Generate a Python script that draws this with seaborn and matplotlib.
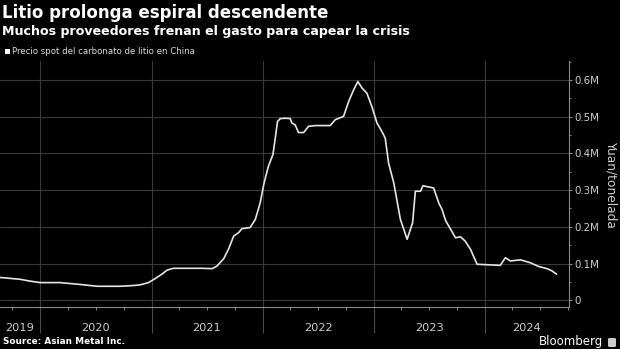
import matplotlib
matplotlib.use("Agg")
import matplotlib.pyplot as plt
import matplotlib.dates as mdates
from matplotlib.patches import Rectangle, FancyBboxPatch
from matplotlib.ticker import FixedLocator, FuncFormatter
import seaborn as sns
import pandas as pd

# ---- data ----
dates = [
    "2019-08-22", "2019-10-27", "2019-11-29", "2020-01-01", "2020-03-06",
    "2020-05-11", "2020-07-06", "2020-09-20", "2020-11-02", "2020-11-25",
    "2020-12-22", "2021-01-13", "2021-02-04", "2021-02-21", "2021-03-14",
    "2021-06-16", "2021-07-19", "2021-08-04", "2021-08-26", "2021-09-11",
    "2021-09-28", "2021-10-14", "2021-10-25", "2021-11-21", "2021-12-08",
    "2021-12-24", "2022-01-06", "2022-01-20", "2022-02-04", "2022-02-11",
    "2022-02-19", "2022-02-28", "2022-03-17", "2022-04-02", "2022-04-07",
    "2022-04-18", "2022-04-29", "2022-05-16", "2022-06-01", "2022-06-23",
    "2022-08-11", "2022-08-28", "2022-09-24", "2022-10-11", "2022-10-27",
    "2022-11-10", "2022-11-24", "2022-12-10", "2022-12-26", "2023-01-12",
    "2023-01-28", "2023-02-08", "2023-02-19", "2023-03-08", "2023-03-30",
    "2023-04-21", "2023-05-09", "2023-05-18", "2023-06-04", "2023-06-12",
    "2023-07-17", "2023-08-03", "2023-08-14", "2023-08-25", "2023-09-05",
    "2023-09-27", "2023-10-13", "2023-10-29", "2023-11-15", "2023-12-07",
    "2024-02-21", "2024-03-09", "2024-03-25", "2024-04-28", "2024-05-30",
    "2024-06-26", "2024-07-24", "2024-08-09", "2024-08-24",
]
prices = [
    62000, 57000, 52000, 48000, 48000,
    43000, 38000, 38000, 40000, 42000,
    48000, 59000, 71000, 82000, 87000,
    87000, 86000, 93000, 113000, 139000,
    175000, 184000, 195000, 198000, 220000,
    265000, 320000, 365000, 397000, 438000,
    487000, 495000, 496000, 495000, 483000,
    478000, 457000, 457000, 474000, 476000,
    476000, 492000, 501000, 542000, 573000,
    596000, 578000, 564000, 528000, 483000,
    460000, 442000, 374000, 320000, 220000,
    166000, 211000, 297000, 297000, 312000,
    306000, 265000, 247000, 218000, 202000,
    170000, 173000, 161000, 139000, 98000,
    95000, 116000, 107000, 110000, 102000,
    92000, 86000, 80000, 71000,
]
series_name = "Precio spot del carbonato de litio en China"
y_ticks = [0, 100000, 200000, 300000, 400000, 500000, 600000]
y_tick_labels = ["0", "0.1M", "0.2M", "0.3M", "0.4M", "0.5M", "0.6M"]
years = [2019, 2020, 2021, 2022, 2023, 2024]

title = "Litio prolonga espiral descendente"
subtitle = "Muchos proveedores frenan el gasto para capear la crisis"
y_label = "Yuan/tonelada"
source = "Source: Asian Metal Inc."

df = pd.DataFrame({"date": pd.to_datetime(dates), "price": prices})

# ---- style ----
sns.set_theme(style="dark", rc={
    "axes.facecolor": "black",
    "figure.facecolor": "black",
    "savefig.facecolor": "black",
})
fam = ["DejaVu Sans"]
plt.rcParams["font.family"] = fam

W, H = 620, 349
fig = plt.figure(figsize=(6.2, 3.49), dpi=100)
ax = fig.add_axes([0, 42 / H, 569 / W, 246 / H])
ax.set_facecolor("black")

sns.lineplot(data=df, x="date", y="price", ax=ax, color="#e6e6e6",
             linewidth=1.2, legend=False)

xmin = pd.Timestamp("2019-08-22")
xmax = pd.Timestamp("2024-10-04")
ax.set_xlim(xmin, xmax)
ax.set_ylim(-18500, 652000)

# spines
for s in ["top", "left"]:
    ax.spines[s].set_visible(False)
for s in ["right", "bottom"]:
    ax.spines[s].set_visible(True)
    ax.spines[s].set_color("#8a8a8a")
    ax.spines[s].set_linewidth(0.8)

# y axis on the right
ax.yaxis.tick_right()
ax.yaxis.set_major_locator(FixedLocator(y_ticks))
ax.set_yticklabels(y_tick_labels)
ax.yaxis.set_minor_locator(FixedLocator([t + 50000 for t in y_ticks]))
ax.tick_params(axis="y", which="major", right=True, left=False, length=2.5,
               width=0.8, color="#8a8a8a", labelcolor="#cfcfcf",
               labelsize=7.4, pad=1.5)
ax.tick_params(axis="y", which="minor", right=True, left=False, length=1.5,
               width=0.7, color="#8a8a8a")
ax.set_ylabel("")
ax.set_xlabel("")

# x axis: long separators at year boundaries, short quarterly ticks
ax.xaxis.set_major_locator(mdates.YearLocator())
ax.xaxis.set_minor_locator(mdates.MonthLocator(bymonth=[4, 7, 10]))
ax.xaxis.set_major_formatter(FuncFormatter(lambda v, p: ""))
ax.tick_params(axis="x", which="major", bottom=True, length=19, width=0.8,
               color="#4a4a4a", pad=0)
ax.tick_params(axis="x", which="minor", bottom=True, length=2, width=0.7,
               color="#8a8a8a")

ax.grid(True, which="major", axis="both", color="#3a3a3a", linewidth=0.8)
ax.grid(False, which="minor")

# year labels centered on visible part of each year
for yr in years:
    a = max(pd.Timestamp(f"{yr}-01-01"), xmin)
    b = min(pd.Timestamp(f"{yr + 1}-01-01"), xmax)
    mid = a + (b - a) / 2
    ax.text(mdates.date2num(mid), -0.085, str(yr), transform=ax.get_xaxis_transform(),
            ha="center", va="center", color="#cfcfcf", fontsize=8.2)

# titles
fig.text(2 / W, 1 - 13 / H, title, color="white", fontsize=12.0,
         fontweight="bold", ha="left", va="center")
fig.text(2 / W, 1 - 32 / H, subtitle, color="white", fontsize=9.1,
         fontweight="bold", ha="left", va="center")

# legend
fig.patches.append(Rectangle((5 / W, 1 - 54 / H), 5 / W, 5 / H,
                             transform=fig.transFigure, facecolor="white",
                             edgecolor="none"))
fig.text(12 / W, 1 - 52 / H, series_name, color="#dddddd", fontsize=6.2,
         ha="left", va="center")

# y label
fig.text(611 / W, 1 - 184 / H, y_label, color="#cfcfcf", fontsize=8.8,
         rotation=270, ha="center", va="center")

# footer
fig.text(3 / W, 1 - 342 / H, source, color="white", fontsize=6.4,
         fontweight="bold", ha="left", va="center")
fig.text(603 / W, 1 - 342 / H, "Bloomberg", color="white", fontsize=8.5,
         ha="right", va="center")
fig.patches.append(FancyBboxPatch((608 / W, 1 - 347 / H), 8 / W, 9 / H,
                                  boxstyle="round,pad=0,rounding_size=0.003",
                                  transform=fig.transFigure,
                                  facecolor="#cccccc", edgecolor="none"))

fig.savefig("out.png", dpi=100, facecolor="black")
